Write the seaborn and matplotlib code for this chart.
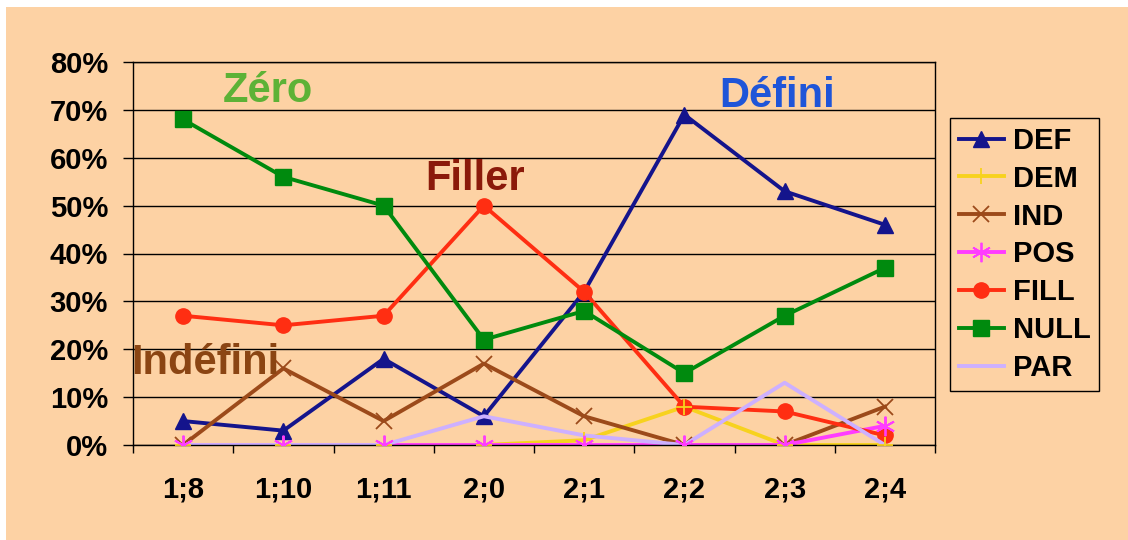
import matplotlib
matplotlib.use("Agg")
import matplotlib.pyplot as plt
import seaborn as sns
import pandas as pd
import numpy as np
from matplotlib.patches import Rectangle
from matplotlib.ticker import FixedLocator

ages = ["1;8", "1;10", "1;11", "2;0", "2;1", "2;2", "2;3", "2;4"]

DEF = [5, 3, 18, 6, 32, 69, 53, 46]
DEM = [0, 0, 0, 0, 1, 8, 0, 0]
IND = [0, 16, 5, 17, 6, 0, 0, 8]
POS = [0, 0, 0, 0, 0, 0, 0, 4]
FILL = [27, 25, 27, 50, 32, 8, 7, 2]
NULL = [68, 56, 50, 22, 28, 15, 27, 37]
PAR = [0, 0, 0, 6, 2, 0, 13, 0]

series = {"DEF": DEF, "DEM": DEM, "IND": IND, "POS": POS,
          "FILL": FILL, "NULL": NULL, "PAR": PAR}
colors = {"DEF": "#14148C", "DEM": "#F7D21E", "IND": "#9C4A1A", "POS": "#FF3CFF",
          "FILL": "#FF2E12", "NULL": "#008A0E", "PAR": "#CDB0FF"}
markers = {"DEF": "^", "DEM": "+", "IND": "x", "POS": (6, 2, 0),
           "FILL": "o", "NULL": "s", "PAR": None}
msizes = {"DEF": 11, "DEM": 12, "IND": 12, "POS": 14, "FILL": 11, "NULL": 11, "PAR": 0}

peach = "#FDD2A4"
plt.rcParams['font.family'] = ['Liberation Sans', 'DejaVu Sans']

fig = plt.figure(figsize=(11.28, 5.40), dpi=100, facecolor="white")
fig.patches.append(Rectangle((6 / 1128, 0), 1, 1 - 7 / 540, transform=fig.transFigure,
                             facecolor=peach, edgecolor="none", zorder=-10))
ax = fig.add_axes([133 / 1128, 95 / 540, 802 / 1128, 383 / 540])
ax.set_facecolor(peach)

pos = np.arange(len(ages))
for name, vals in series.items():
    thin = name in ("IND", "POS", "DEM")
    sns.lineplot(x=pos, y=np.array(vals) / 100, ax=ax, color=colors[name], lw=2.8,
                 marker=markers[name], markersize=msizes[name],
                 markeredgecolor=colors[name],
                 markeredgewidth=1.3 if thin else 1, label=name)

# Excel draws the markers over all the lines
for name in ("DEM", "POS"):
    ax.plot(pos, np.array(series[name]) / 100, ls="none", marker=markers[name],
            markersize=msizes[name], color=colors[name], markeredgewidth=1.3, zorder=5)

ax.set_xlim(-0.5, 7.5)
ax.set_ylim(0, 0.8)
yt = np.arange(0, 0.81, 0.1)
ax.set_yticks(yt)
ax.set_yticklabels([f"{int(round(v * 100))}%" for v in yt], fontsize=21, fontweight="bold")
ax.xaxis.set_major_locator(FixedLocator(pos))
ax.set_xticklabels(ages, fontsize=21, fontweight="bold")
ax.xaxis.set_minor_locator(FixedLocator(np.arange(-0.5, 8, 1)))
ax.tick_params(axis="x", which="major", length=0, pad=22)
ax.tick_params(axis="x", which="minor", length=6, width=1, direction="out")
ax.tick_params(axis="y", length=7, width=1, direction="out", pad=11)
ax.yaxis.grid(True, color="black", lw=1)
ax.set_axisbelow(True)
for s in ax.spines.values():
    s.set_color("black")
    s.set_linewidth(1)
ax.set_xlabel("")
ax.set_ylabel("")

ax.text(0.85, 0.74, "Zéro", color="#5DB236", fontsize=30, fontweight="bold", ha="center", va="center")
ax.text(2.91, 0.555, "Filler", color="#8B1A0A", fontsize=30, fontweight="bold", ha="center", va="center")
ax.text(5.93, 0.73, "Défini", color="#1F55D8", fontsize=30, fontweight="bold", ha="center", va="center")
ax.text(0.22, 0.172, "Indéfini", color="#8B4513", fontsize=30, fontweight="bold", ha="center", va="center")

leg = ax.legend(loc="upper left", bbox_to_anchor=(950 / 1128, 1 - 118 / 540),
                bbox_transform=fig.transFigure, frameon=True, fancybox=False,
                prop={"size": 21, "weight": "bold"}, handlelength=1.55,
                labelspacing=0.34, borderpad=0.3, handletextpad=0.3, borderaxespad=0)
leg.get_frame().set_edgecolor("black")
leg.get_frame().set_facecolor(peach)
leg.get_frame().set_linewidth(1)
leg.get_frame().set_alpha(1)

fig.savefig("out.png", dpi=100, facecolor=fig.get_facecolor())
